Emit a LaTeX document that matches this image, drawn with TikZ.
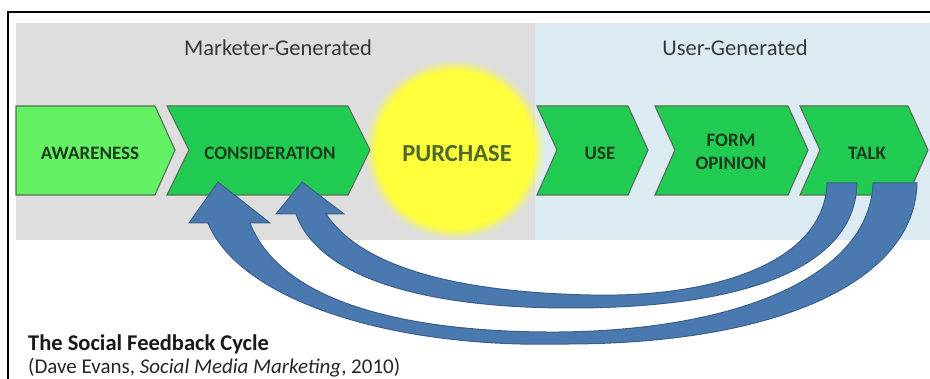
\documentclass[tikz,border=0pt]{standalone}
\usepackage{fontspec}
\setmainfont{Carlito}
\definecolor{panelgray}{HTML}{DEDEDE}
\definecolor{panelblue}{HTML}{DCEBF2}
\definecolor{lightgreen}{HTML}{64F264}
\definecolor{midgreen}{HTML}{22CC52}
\definecolor{chevline}{HTML}{557055}
\definecolor{chevtext}{HTML}{1E3A1E}
\definecolor{purchtext}{HTML}{4E6A2A}
\definecolor{sunyellow}{HTML}{FFFF3C}
\definecolor{arrowfill}{HTML}{4A79B0}
\definecolor{arrowline}{HTML}{3A5F8C}
\definecolor{headtext}{HTML}{383838}
\begin{document}
\begin{tikzpicture}[x=1pt,y=-1pt,
  chev/.style={draw=chevline, line width=1.1pt, line join=miter},
  chevlbl/.style={font=\fontsize{19}{23}\selectfont\bfseries, text=chevtext, align=center, inner sep=0pt},
  headlbl/.style={font=\fontsize{22.5}{26}\selectfont, text=headtext, inner sep=0pt},
  bluearrow/.style={fill=arrowfill, draw=arrowline, line width=1pt, line join=miter}]
\useasboundingbox (0,0) rectangle (930,379);
\fill[white] (0,0) rectangle (930,379);
% frame
\draw[black, line width=2pt] (8,379) -- (8,12) -- (930,12);
% panels
\fill[panelgray] (16,23) rectangle (535,240);
\fill[panelblue] (535,23) rectangle (930,240);
\node[headlbl] (mg) at (278,48) {Marketer-Generated};
\node[headlbl] (ug) at (735,48) {User-Generated};
% purchase glow
\foreach \r/\o in {90/0.1, 88/0.15, 86/0.22, 84/0.32, 82/0.45, 80/0.65} {
  \fill[sunyellow, opacity=\o] (455,150) circle (\r);
}
\fill[sunyellow] (455,150) circle (78);
\node[font=\fontsize{24.5}{28}\selectfont\bfseries, text=purchtext, inner sep=0pt] (purchase) at (457,154) {PURCHASE};
% chevrons
\draw[chev, fill=lightgreen] (16,106) -- (155,106) -- (175,150) -- (155,195) -- (16,195) -- cycle;
\draw[chev, fill=midgreen] (167,106) -- (348,106) -- (370,150) -- (348,195) -- (167,195) -- (189,150) -- cycle;
\draw[chev, fill=midgreen] (537,106) -- (628,106) -- (648,150) -- (628,195) -- (537,195) -- (557,150) -- cycle;
\draw[chev, fill=midgreen] (655,106) -- (788,106) -- (808,150) -- (788,195) -- (655,195) -- (675,150) -- cycle;
\draw[chev, fill=midgreen] (800,106) -- (908,106) -- (928,150) -- (908,195) -- (800,195) -- (820,150) -- cycle;
\node[chevlbl] (aw) at (90,153) {AWARENESS};
\node[chevlbl] (co) at (270,153) {CONSIDERATION};
\node[chevlbl] (use) at (600,153) {USE};
\node[chevlbl] (fo) at (731,152) {FORM\\OPINION};
\node[chevlbl] (talk) at (867,153) {TALK};
% feedback arrows (talk -> consideration)
\coordinate (outerTip) at (218,182);
\coordinate (innerTip) at (302,182);
\draw[bluearrow] (208,223) -- (189,223) -- (outerTip) -- (270,223) -- (250,223)
  .. controls (280,300) and (400,333) .. (560,332)
  .. controls (740,330) and (870,275) .. (873,183)
  -- (917,183)
  .. controls (915,280) and (780,345) .. (560,344)
  .. controls (390,348) and (240,300) .. (208,223) -- cycle;
\draw[bluearrow] (296,214) -- (276,214) -- (innerTip) -- (344,214) -- (326,214)
  .. controls (360,265) and (450,292) .. (590,295)
  .. controls (720,298) and (825,260) .. (827,183)
  -- (857,183)
  .. controls (855,270) and (740,308) .. (570,308)
  .. controls (430,308) and (320,280) .. (296,214) -- cycle;
% caption
\node[anchor=base west, font=\fontsize{22.5}{26}\selectfont\bfseries, text=black!90, inner sep=0pt] (title) at (28,351) {The Social Feedback Cycle};
\node[anchor=base west, font=\fontsize{21}{24}\selectfont, text=black!85, inner sep=0pt] (source) at (28,374) {(Dave Evans, \textit{Social Media Marketing}, 2010)};
\end{tikzpicture}
\end{document}
